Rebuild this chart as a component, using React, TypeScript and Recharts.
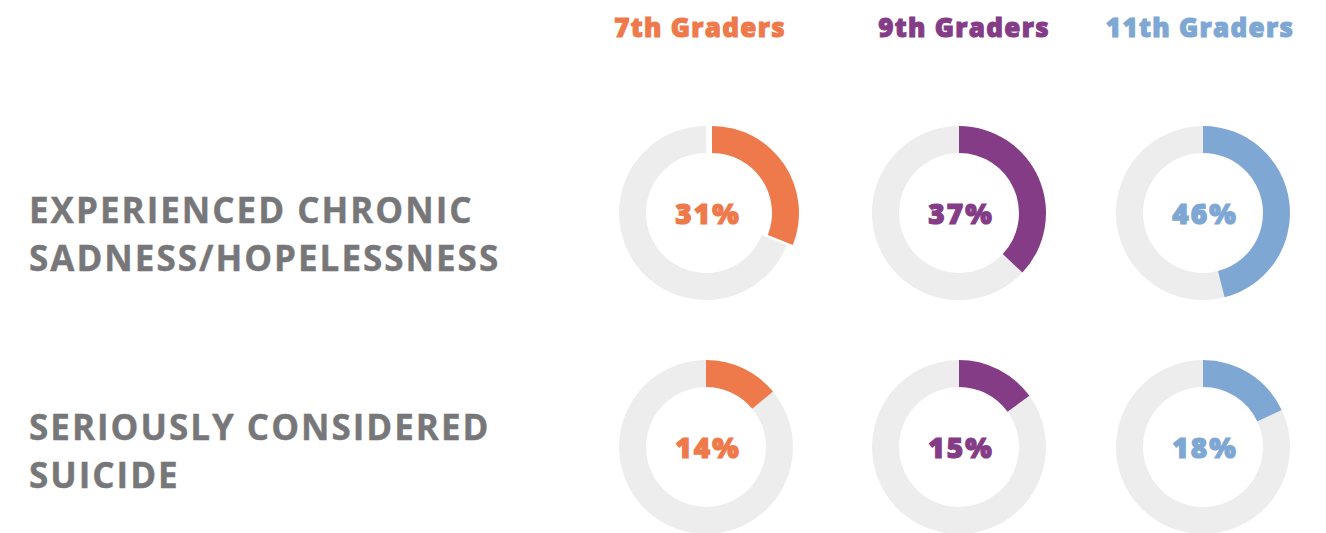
import { PieChart, Pie, Cell } from 'recharts'

// grades (columns) and measures (rows)
const grades = ['7th Graders', '9th Graders', '11th Graders']
const measureLines = [
  ['EXPERIENCED CHRONIC', 'SADNESS/HOPELESSNESS'],
  ['SERIOUSLY CONSIDERED', 'SUICIDE'],
]

// percent of students per grade
const sadnessValues = [31, 37, 46]
const suicideValues = [14, 15, 18]
const rows = [sadnessValues, suicideValues]

const gradeColors = ['#ee7a4b', '#843c86', '#7ea7d3']
const ringGray = '#ededed'
const labelGray = '#77777a'

const W = 1326
const H = 533
const colX = [706, 959, 1203]
const headerX = [699, 963, 1199]
const rowY = [213, 447]
const labelY = [223, 440]
const OUTER = 87
const INNER = 60
// the first donut has its slice pulled out a little
const explodeX = (r: number, c: number) => (r === 0 && c === 0 ? 6 : 0)

const heavy = "'Open Sans', 'DejaVu Sans', sans-serif"

export default function App() {
  return (
    <div style={{ position: 'absolute', left: 0, top: 0, width: W, height: H, background: '#fff' }}>
      <PieChart width={W} height={H} margin={{ top: 0, right: 0, bottom: 0, left: 0 }}>
        {rows.map((vals, r) =>
          vals.map((v, c) => {
            const d = [
              { name: 'yes', value: v },
              { name: 'no', value: 100 - v },
            ]
            return [
              <Pie
                key={`bg-${r}-${c}`}
                data={d}
                dataKey="value"
                cx={colX[c]}
                cy={rowY[r]}
                innerRadius={INNER}
                outerRadius={OUTER}
                startAngle={90}
                endAngle={-270}
                stroke="none"
                isAnimationActive={false}
              >
                <Cell fill="transparent" />
                <Cell fill={ringGray} />
              </Pie>,
              <Pie
                key={`fg-${r}-${c}`}
                data={d}
                dataKey="value"
                cx={colX[c] + explodeX(r, c)}
                cy={rowY[r]}
                innerRadius={INNER}
                outerRadius={OUTER}
                startAngle={90}
                endAngle={-270}
                stroke="none"
                isAnimationActive={false}
              >
                <Cell fill={gradeColors[c]} />
                <Cell fill="transparent" />
              </Pie>,
            ]
          })
        )}
      </PieChart>
      <svg
        width={W}
        height={H}
        style={{ position: 'absolute', left: 0, top: 0, pointerEvents: 'none' }}
      >
        {grades.map((g, c) => (
          <text
            key={g}
            x={headerX[c] + 1}
            y={37}
            textAnchor="middle"
            fill={gradeColors[c]}
            stroke={gradeColors[c]}
            strokeWidth={1}
            style={{ fontSize: 26, fontWeight: 800, fontFamily: heavy, letterSpacing: 1.3 }}
          >
            {g}
          </text>
        ))}
        {rows.map((vals, r) =>
          vals.map((v, c) => (
            <text
              key={`p-${r}-${c}`}
              x={colX[c] + 2}
              y={rowY[r] + 11}
              textAnchor="middle"
              fill={gradeColors[c]}
              stroke={gradeColors[c]}
              strokeWidth={1.2}
              style={{ fontSize: 28, fontWeight: 800, fontFamily: heavy, letterSpacing: 2 }}
            >
              {`${v}%`}
            </text>
          ))
        )}
        {measureLines.map((lines, r) =>
          lines.map((ln, i) => (
            <text
              key={`${r}-${i}`}
              x={29}
              y={labelY[r] + i * 48}
              fill={labelGray}
              stroke={labelGray}
              strokeWidth={0.4}
              style={{ fontSize: 35, fontWeight: 700, fontFamily: heavy, letterSpacing: 2 }}
            >
              {ln}
            </text>
          ))
        )}
      </svg>
    </div>
  )
}
